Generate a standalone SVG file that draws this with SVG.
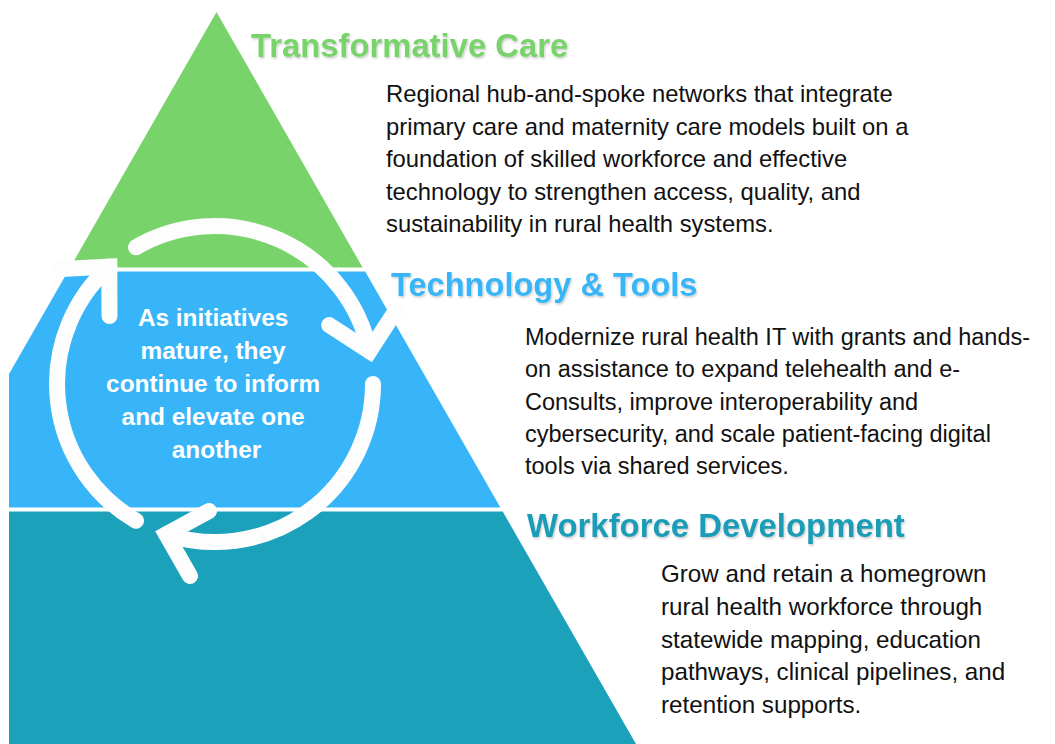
<svg xmlns="http://www.w3.org/2000/svg" width="1055" height="744" viewBox="0 0 1055 744">
  <defs>
    <style>
      .title { font-family: "Liberation Sans", Arial, sans-serif; font-weight: bold; }
      .body { font-family: "Liberation Sans", Arial, sans-serif; fill: #111111; }
      .center { font-family: "Liberation Sans", Arial, sans-serif; font-weight: bold; fill: #FFFFFF; font-size: 24.4px; text-anchor: middle; }
      .ring { fill: none; stroke: #FDFDFD; stroke-width: 16; stroke-linecap: round; stroke-linejoin: miter; stroke-miterlimit: 10; }
    </style>
    <filter id="shadow" x="-5%" y="-30%" width="110%" height="160%">
      <feDropShadow dx="1" dy="1.5" stdDeviation="1.2" flood-color="#000000" flood-opacity="0.22"/>
    </filter>
  </defs>
  <rect width="1055" height="744" fill="#FFFFFF"/>

  <g id="tier-transformative-care">
    <polygon points="216.5,12 362.6,267.5 70.1,267.5" fill="#78D46A"/>
    <text class="title" x="251" y="57" font-size="32.8" fill="#78D46A" filter="url(#shadow)">Transformative Care</text>
    <text class="body" font-size="23.8">
      <tspan x="386" y="102">Regional hub-and-spoke networks that integrate</tspan>
      <tspan x="386" y="134.5">primary care and maternity care models built on a</tspan>
      <tspan x="386" y="167">foundation of skilled workforce and effective</tspan>
      <tspan x="386" y="199.5">technology to strengthen access, quality, and</tspan>
      <tspan x="386" y="232">sustainability in rural health systems.</tspan>
    </text>
  </g>

  <g id="tier-technology-tools">
    <polygon points="67.8,271.5 365.2,271.5 500.4,507.5 9,507.5 9,374.1" fill="#38B5F8"/>
    <text class="title" x="391" y="296" font-size="32.6" fill="#38B5F8" filter="url(#shadow)">Technology &amp; Tools</text>
    <text class="body" font-size="23.5">
      <tspan x="525" y="345">Modernize rural health IT with grants and hands-</tspan>
      <tspan x="525" y="377">on assistance to expand telehealth and e-</tspan>
      <tspan x="525" y="409.5">Consults, improve interoperability and</tspan>
      <tspan x="525" y="442">cybersecurity, and scale patient-facing digital</tspan>
      <tspan x="525" y="474">tools via shared services.</tspan>
    </text>
  </g>

  <g id="tier-workforce-development">
    <polygon points="9,511.5 502.7,511.5 636,744 9,744" fill="#1BA2BA"/>
    <text class="title" x="527" y="537" font-size="32.9" fill="#1A9CB6" filter="url(#shadow)">Workforce Development</text>
    <text class="body" font-size="24.2">
      <tspan x="661" y="582">Grow and retain a homegrown</tspan>
      <tspan x="661" y="615">rural health workforce through</tspan>
      <tspan x="661" y="648">statewide mapping, education</tspan>
      <tspan x="661" y="680">pathways, clinical pipelines, and</tspan>
      <tspan x="661" y="713">retention supports.</tspan>
    </text>
  </g>

  <g id="connectors">
    <path class="ring" d="M136,247.2 A158,158 0 0 1 369.5,351.2"/>
    <path class="ring" d="M329.2,325.1 L369.5,351.2 L395.6,311"/>
    <path class="ring" d="M373,384 A158,158 0 0 1 166.2,534.3"/>
    <path class="ring" d="M209,511 L166.2,534.3 L190,576"/>
    <path class="ring" d="M136,520.8 A158,158 0 0 1 109.3,266.6"/>
    <path class="ring" d="M61,269 L109.3,266.6 L109.5,316"/>
  </g>

  <g id="cycle-label">
    <text class="center">
      <tspan x="216.5" y="326">As initiatives</tspan>
      <tspan x="216.5" y="358.5">mature, they</tspan>
      <tspan x="216.5" y="391.5">continue to inform</tspan>
      <tspan x="216.5" y="424.5">and elevate one</tspan>
      <tspan x="216.5" y="457.5">another</tspan>
    </text>
  </g>
</svg>
